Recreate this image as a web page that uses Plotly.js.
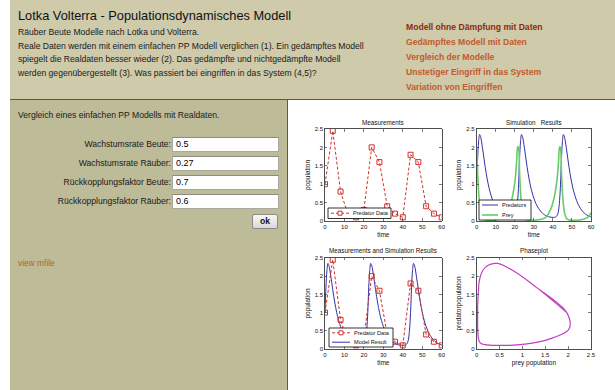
<!DOCTYPE html>
<html>
<head>
<meta charset="utf-8">
<script src="https://cdn.plot.ly/plotly-3.0.1.min.js"></script>
<style>
  html, body { margin:0; padding:0; width:615px; height:390px; overflow:hidden; background:#ffffff;
    font-family:"Liberation Sans", Arial, sans-serif; }
  #header { position:absolute; left:10px; top:0; width:605px; height:99px; background:#cecaaa;
    border-bottom:1px solid #5e5e36; }
  #title { position:absolute; left:8px; top:8px; font-size:12.8px; color:#111; white-space:nowrap; }
  #intro { position:absolute; left:8px; top:26px; font-size:8.6px; line-height:13.5px; color:#1a1a1a; white-space:nowrap; }
  .lnk { position:absolute; left:396px; font-size:8.6px; font-weight:bold; color:#c25a2c; white-space:nowrap; }
  #left { position:absolute; left:10px; top:100px; width:277px; height:290px; background:#bdbb98;
    border-right:1px solid #5e5e36; }
  #lhead { position:absolute; left:8px; top:10px; font-size:8.6px; color:#1a1a1a; white-space:nowrap; }
  .lab { position:absolute; right:116px; font-size:8.6px; color:#1a1a1a; white-space:nowrap; text-align:right; }
  .inp { position:absolute; left:162px; width:102px; height:13px; background:#fff;
    border:1px solid #a9a9a0; border-top-color:#8c8c84; font-size:9px; color:#000; line-height:13px; padding-left:3px; box-sizing:content-box; }
  #ok { position:absolute; left:242px; top:114px; width:24px; height:13px; border:1px solid #8a8a8a; border-radius:2px;
    background:linear-gradient(#f7f7f7,#d9d9d9); font-size:8.6px; font-weight:bold; color:#111; text-align:center; line-height:13px; }
  #mfile { position:absolute; left:8px; top:158px; font-size:8.4px; color:#b4622e; white-space:nowrap; }
  #plot { position:absolute; left:288px; top:100px; width:327px; height:290px; }
</style>
</head>
<body>
<div id="header">
  <div id="title">Lotka Volterra - Populationsdynamisches Modell</div>
  <div id="intro">Räuber Beute Modelle nach Lotka und Volterra.<br>Reale Daten werden mit einem einfachen PP Modell verglichen (1). Ein gedämpftes Modell<br>spiegelt die Realdaten besser wieder (2). Das gedämpfte und nichtgedämpfte Modell<br>werden gegenübergestellt (3). Was passiert bei eingriffen in das System (4,5)?</div>
  <div class="lnk" style="top:22px;color:#8e2a0c;">Modell ohne Dämpfung mit Daten</div>
  <div class="lnk" style="top:37px;">Gedämpftes Modell mit Daten</div>
  <div class="lnk" style="top:52px;">Vergleich der Modelle</div>
  <div class="lnk" style="top:67px;">Unstetiger Eingriff in das System</div>
  <div class="lnk" style="top:82px;">Variation von Eingriffen</div>
</div>
<div id="left">
  <div id="lhead">Vergleich eines einfachen PP Modells mit Realdaten.</div>
  <div class="lab" style="top:39px;">Wachstumsrate Beute:</div>
  <div class="inp" style="top:37px;">0.5</div>
  <div class="lab" style="top:58px;">Wachstumsrate Räuber:</div>
  <div class="inp" style="top:56px;">0.27</div>
  <div class="lab" style="top:77px;">Rückkopplungsfaktor Beute:</div>
  <div class="inp" style="top:75px;">0.7</div>
  <div class="lab" style="top:96px;">Rückkopplungsfaktor Räuber:</div>
  <div class="inp" style="top:94px;">0.6</div>
  <div id="ok">ok</div>
  <div id="mfile">view mfile</div>
</div>
<div id="plot"></div>
<script>
// Measured predator data
const measTime = [0, 4, 8, 12, 16, 20, 24, 28, 32, 36, 40, 44, 48, 52, 56, 60];
const predatorData = [1.0, 2.45, 0.8, 0.15, 0.1, 0.3, 2.0, 1.6, 0.4, 0.2, 0.1, 1.8, 1.6, 0.4, 0.2, 0.1];

// Simulation sample times
const simTime = [0,0.5,1,1.5,2,2.5,3,3.5,4,4.5,5,5.5,6,6.5,7,7.5,8,8.5,9,9.5,10,10.5,11,11.5,12,12.5,13,13.5,14,14.5,
  15,15.5,16,16.5,17,17.5,18,18.5,19,19.5,20,20.5,21,21.5,22,22.5,23,23.5,24,24.5,25,25.5,26,26.5,27,27.5,28,28.5,29,29.5,
  30,30.5,31,31.5,32,32.5,33,33.5,34,34.5,35,35.5,36,36.5,37,37.5,38,38.5,39,39.5,40,40.5,41,41.5,42,42.5,43,43.5,44,44.5,
  45,45.5,46,46.5,47,47.5,48,48.5,49,49.5,50,50.5,51,51.5,52,52.5,53,53.5,54,54.5,55,55.5,56,56.5,57,57.5,58,58.5,59,59.5,60];

// Simulated predators
const simPredators = [
  1.00,1.70,2.15,2.35,2.30,2.17,2.00,1.82,1.63,1.45,1.29,1.14,1.01,0.89,0.79,0.70,0.62,0.55,0.48,0.43,0.38,0.34,0.30,0.27,0.24,
  0.21,0.19,0.17,0.155,0.14,0.13,0.12,0.112,0.106,0.102,
  0.100,0.098,0.098,0.102,0.112,0.135,0.18,0.30,0.55,1.00,1.70,2.15,2.35,2.30,2.17,2.00,1.82,1.63,1.45,1.29,1.14,1.01,0.89,0.79,
  0.70,0.62,0.55,0.48,0.43,0.38,0.34,0.30,0.27,0.24,0.21,0.19,0.17,0.155,0.14,0.13,0.12,0.112,0.106,0.102,
  0.100,0.098,0.098,0.102,0.112,0.135,0.18,0.30,0.55,1.00,1.70,2.15,2.35,2.30,2.17,2.00,1.82,1.63,1.45,1.29,1.14,1.01,0.89,0.79,
  0.70,0.62,0.55,0.48,0.43,0.38,0.34,0.30,0.27,0.24,0.21,0.19,0.17,0.155,0.14,0.13,0.12,0.112];

// Simulated prey
const simPrey = [
  1.97,1.30,0.80,0.45,0.25,0.14,0.08,0.05,0.04,0.03,0.025,0.02,0.02,0.02,0.02,0.02,0.02,0.022,0.024,0.026,0.03,0.033,0.037,0.042,
  0.048,0.055,0.065,0.077,0.09,0.11,0.14,0.18,0.23,0.28,0.34,
  0.41,0.50,0.60,0.72,0.87,1.05,1.30,1.65,2.02,1.97,1.30,0.80,0.45,0.25,0.14,0.08,0.05,0.04,0.03,0.025,0.02,0.02,0.02,0.02,0.02,
  0.02,0.022,0.024,0.026,0.03,0.033,0.037,0.042,0.048,0.055,0.065,0.077,0.09,0.11,0.14,0.18,0.23,0.28,0.34,
  0.41,0.50,0.60,0.72,0.87,1.05,1.30,1.65,2.02,1.97,1.30,0.80,0.45,0.25,0.14,0.08,0.05,0.04,0.03,0.025,0.02,0.02,0.02,0.02,0.02,
  0.02,0.022,0.024,0.026,0.03,0.033,0.037,0.042,0.048,0.055,0.065,0.077,0.09,0.11,0.14,0.18,0.23];

const panelTitles = ["Measurements", "Simulation\u00a0\u00a0 Results", "Measurements and Simulation Results", "Phaseplot"];
const yTicks = [0, 0.5, 1, 1.5, 2, 2.5];
const yTickText = ["0", "0.5", "1", "1.5", "2", "2.5"];
const xTimeTicks = [0, 10, 20, 30, 40, 50, 60];
const legendNames = {meas: ["Predator Data"], sim: ["Predators", "Prey"], both: ["Predator Data", "Model Result"]};

const RED = '#d0302c', BLUE = '#3232aa', GREEN = '#66cc66', MAG = '#c43cc4';
const F = {family:'Liberation Sans, Arial, sans-serif', size:6, color:'#111'};

const measStyle = {mode:'lines+markers', line:{color:RED, width:1, dash:'3px,2px'},
  marker:{symbol:'square-open', size:5, color:RED, line:{width:1, color:RED}}, showlegend:false};

const traces = [
  Object.assign({x:measTime, y:predatorData, name:'Predator Data', xaxis:'x', yaxis:'y'}, measStyle),
  {x:simTime, y:simPredators, name:'Predators', mode:'lines', line:{color:BLUE, width:1, shape:'spline'}, xaxis:'x2', yaxis:'y2', showlegend:false},
  {x:simTime, y:simPrey, name:'Prey', mode:'lines', line:{color:GREEN, width:1.6, shape:'spline'}, xaxis:'x2', yaxis:'y2', showlegend:false},
  {x:simTime, y:simPredators, name:'Model Result', mode:'lines', line:{color:BLUE, width:1, shape:'spline'}, xaxis:'x3', yaxis:'y3', showlegend:false},
  Object.assign({x:measTime, y:predatorData, name:'Predator Data', xaxis:'x3', yaxis:'y3'}, measStyle),
  {x:simPrey, y:simPredators, name:'phase', mode:'lines', line:{color:MAG, width:1.2, shape:'spline'}, xaxis:'x4', yaxis:'y4', showlegend:false}
];

function ax(domain, range, tickvals, ticktext, anchor, title) {
  return {domain:domain, range:range, tickvals:tickvals, ticktext:ticktext, anchor:anchor,
    showgrid:false, zeroline:false, showline:true, linecolor:'#222', linewidth:0.8, mirror:'allticks',
    ticks:'inside', ticklen:2.5, tickwidth:0.6, tickcolor:'#222', tickfont:F, fixedrange:true,
    title:{text:title, font:{family:F.family, size:6.5, color:'#111'}, standoff:3}};
}
const xD1 = [0.1131, 0.4700], xD2 = [0.5771, 0.9266];
const yTop = [0.5828, 0.9000], yBot = [0.1414, 0.4552];
const xTT = xTimeTicks.map(String);

// page pixel -> plot paper coords (plot div at 288,100 size 327x290)
const PX = p => (p - 288) / 327, PY = p => 1 - (p - 100) / 290;

const shapes = [], annotations = [];
function legendBox(x0, y0, x1, y1) {
  shapes.push({type:'rect', xref:'paper', yref:'paper', x0:PX(x0), x1:PX(x1), y0:PY(y0), y1:PY(y1),
    fillcolor:'#ffffff', line:{color:'#000', width:0.8}});
}
function legendLine(x0, x1, y, color, width, dash, marker) {
  shapes.push({type:'line', xref:'paper', yref:'paper', x0:PX(x0), x1:PX(x1), y0:PY(y), y1:PY(y),
    line:{color:color, width:width, dash:dash}});
  if (marker) {
    const cx = (x0 + x1) / 2;
    shapes.push({type:'rect', xref:'paper', yref:'paper', x0:PX(cx - 2), x1:PX(cx + 2), y0:PY(y + 2), y1:PY(y - 2),
      fillcolor:'#ffffff', line:{color:color, width:1}});
  }
}
function legendText(x, y, t) {
  annotations.push({text:t, x:PX(x), y:PY(y), xref:'paper', yref:'paper', showarrow:false, xanchor:'left', yanchor:'middle',
    borderpad:0, font:{family:F.family, size:5.6, color:'#111'}});
}
// Measurements legend
legendBox(328, 208, 391, 218.5);
legendLine(331, 349, 213.2, RED, 1, '3px,2px', true);
legendText(351.5, 213.2, legendNames.meas[0]);
// Simulation legend
legendBox(479, 200, 531, 220);
legendLine(482, 498, 205, BLUE, 1, 'solid', false);
legendText(500.5, 205, legendNames.sim[0]);
legendLine(482, 498, 215, GREEN, 1.6, 'solid', false);
legendText(500.5, 215, legendNames.sim[1]);
// Combined legend
legendBox(329, 328, 393, 347);
legendLine(332, 350, 332.8, RED, 1, '3px,2px', true);
legendText(352.5, 332.8, legendNames.both[0]);
legendLine(332, 350, 342.2, BLUE, 1, 'solid', false);
legendText(352.5, 342.2, legendNames.both[1]);

[[panelTitles[0], 383, 122.7], [panelTitles[1], 534, 122.7], [panelTitles[2], 383, 250.5], [panelTitles[3], 534, 250.5]]
  .forEach(([t, x, y]) => annotations.push({text:t, x:PX(x), y:PY(y), xref:'paper', yref:'paper', showarrow:false,
    xanchor:'center', yanchor:'middle', font:{family:F.family, size:6.3, color:'#111'}}));

const layout = {
  width:327, height:290, margin:{l:0, r:0, t:0, b:0},
  paper_bgcolor:'rgba(0,0,0,0)', plot_bgcolor:'#ffffff', font:F, showlegend:false,
  xaxis: ax(xD1, [0,60], xTimeTicks, xTT, 'y', 'time'),
  yaxis: ax(yTop, [0,2.5], yTicks, yTickText, 'x', 'population'),
  xaxis2: ax(xD2, [0,60], xTimeTicks, xTT, 'y2', 'time'),
  yaxis2: ax(yTop, [0,2.5], yTicks, yTickText, 'x2', 'population'),
  xaxis3: ax(xD1, [0,60], xTimeTicks, xTT, 'y3', 'time'),
  yaxis3: ax(yBot, [0,2.5], yTicks, yTickText, 'x3', 'population'),
  xaxis4: ax(xD2, [0,2.5], yTicks, yTickText, 'y4', 'prey population'),
  yaxis4: ax(yBot, [0,2.5], yTicks, yTickText, 'x4', 'predatorpopulation'),
  shapes: shapes,
  annotations: annotations
};

Plotly.newPlot('plot', traces, layout, {staticPlot:true, displayModeBar:false});
</script>
</body>
</html>
